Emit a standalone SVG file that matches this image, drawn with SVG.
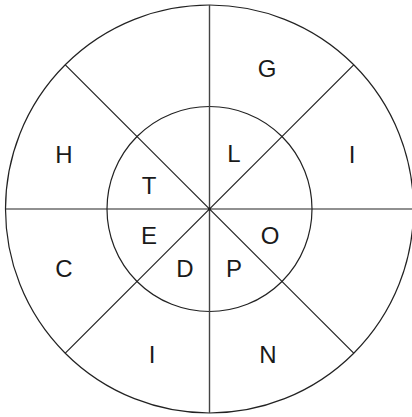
<svg xmlns="http://www.w3.org/2000/svg" width="412" height="417" viewBox="0 0 412 417">
<style>
.ln{stroke:#222;stroke-width:1.2;fill:none}
.t{font-family:"Liberation Sans",Arial,sans-serif;font-size:24px;fill:#1a1a1a;text-anchor:middle}
</style>
<rect width="412" height="417" fill="#fff"/>
<g id="connectors">
<circle class="ln" cx="209.5" cy="209" r="204"/>
<circle class="ln" cx="209.5" cy="209" r="102.5"/>
<line class="ln" x1="209.5" y1="5" x2="209.5" y2="413" style="stroke:#444;stroke-width:1.4"/>
<line class="ln" x1="5.5" y1="209" x2="413.5" y2="209"/>
<line class="ln" x1="65.3" y1="64.8" x2="353.7" y2="353.2"/>
<line class="ln" x1="353.7" y1="64.8" x2="65.3" y2="353.2"/>
<circle cx="209.5" cy="209" r="1.6" fill="#222"/>
</g>
<g id="labels">
<g id="nG"><text class="t" x="267" y="77">G</text></g>
<g id="nH"><text class="t" x="64" y="163">H</text></g>
<g id="nL"><text class="t" x="234" y="162">L</text></g>
<g id="nI1"><text class="t" x="352" y="163">I</text></g>
<g id="nT"><text class="t" x="149" y="194">T</text></g>
<g id="nE"><text class="t" x="149" y="244">E</text></g>
<g id="nO"><text class="t" x="270" y="244">O</text></g>
<g id="nC"><text class="t" x="64" y="277">C</text></g>
<g id="nD"><text class="t" x="185" y="277">D</text></g>
<g id="nP"><text class="t" x="234" y="277">P</text></g>
<g id="nI2"><text class="t" x="152" y="363">I</text></g>
<g id="nN"><text class="t" x="268" y="363">N</text></g>
</g>
</svg>
